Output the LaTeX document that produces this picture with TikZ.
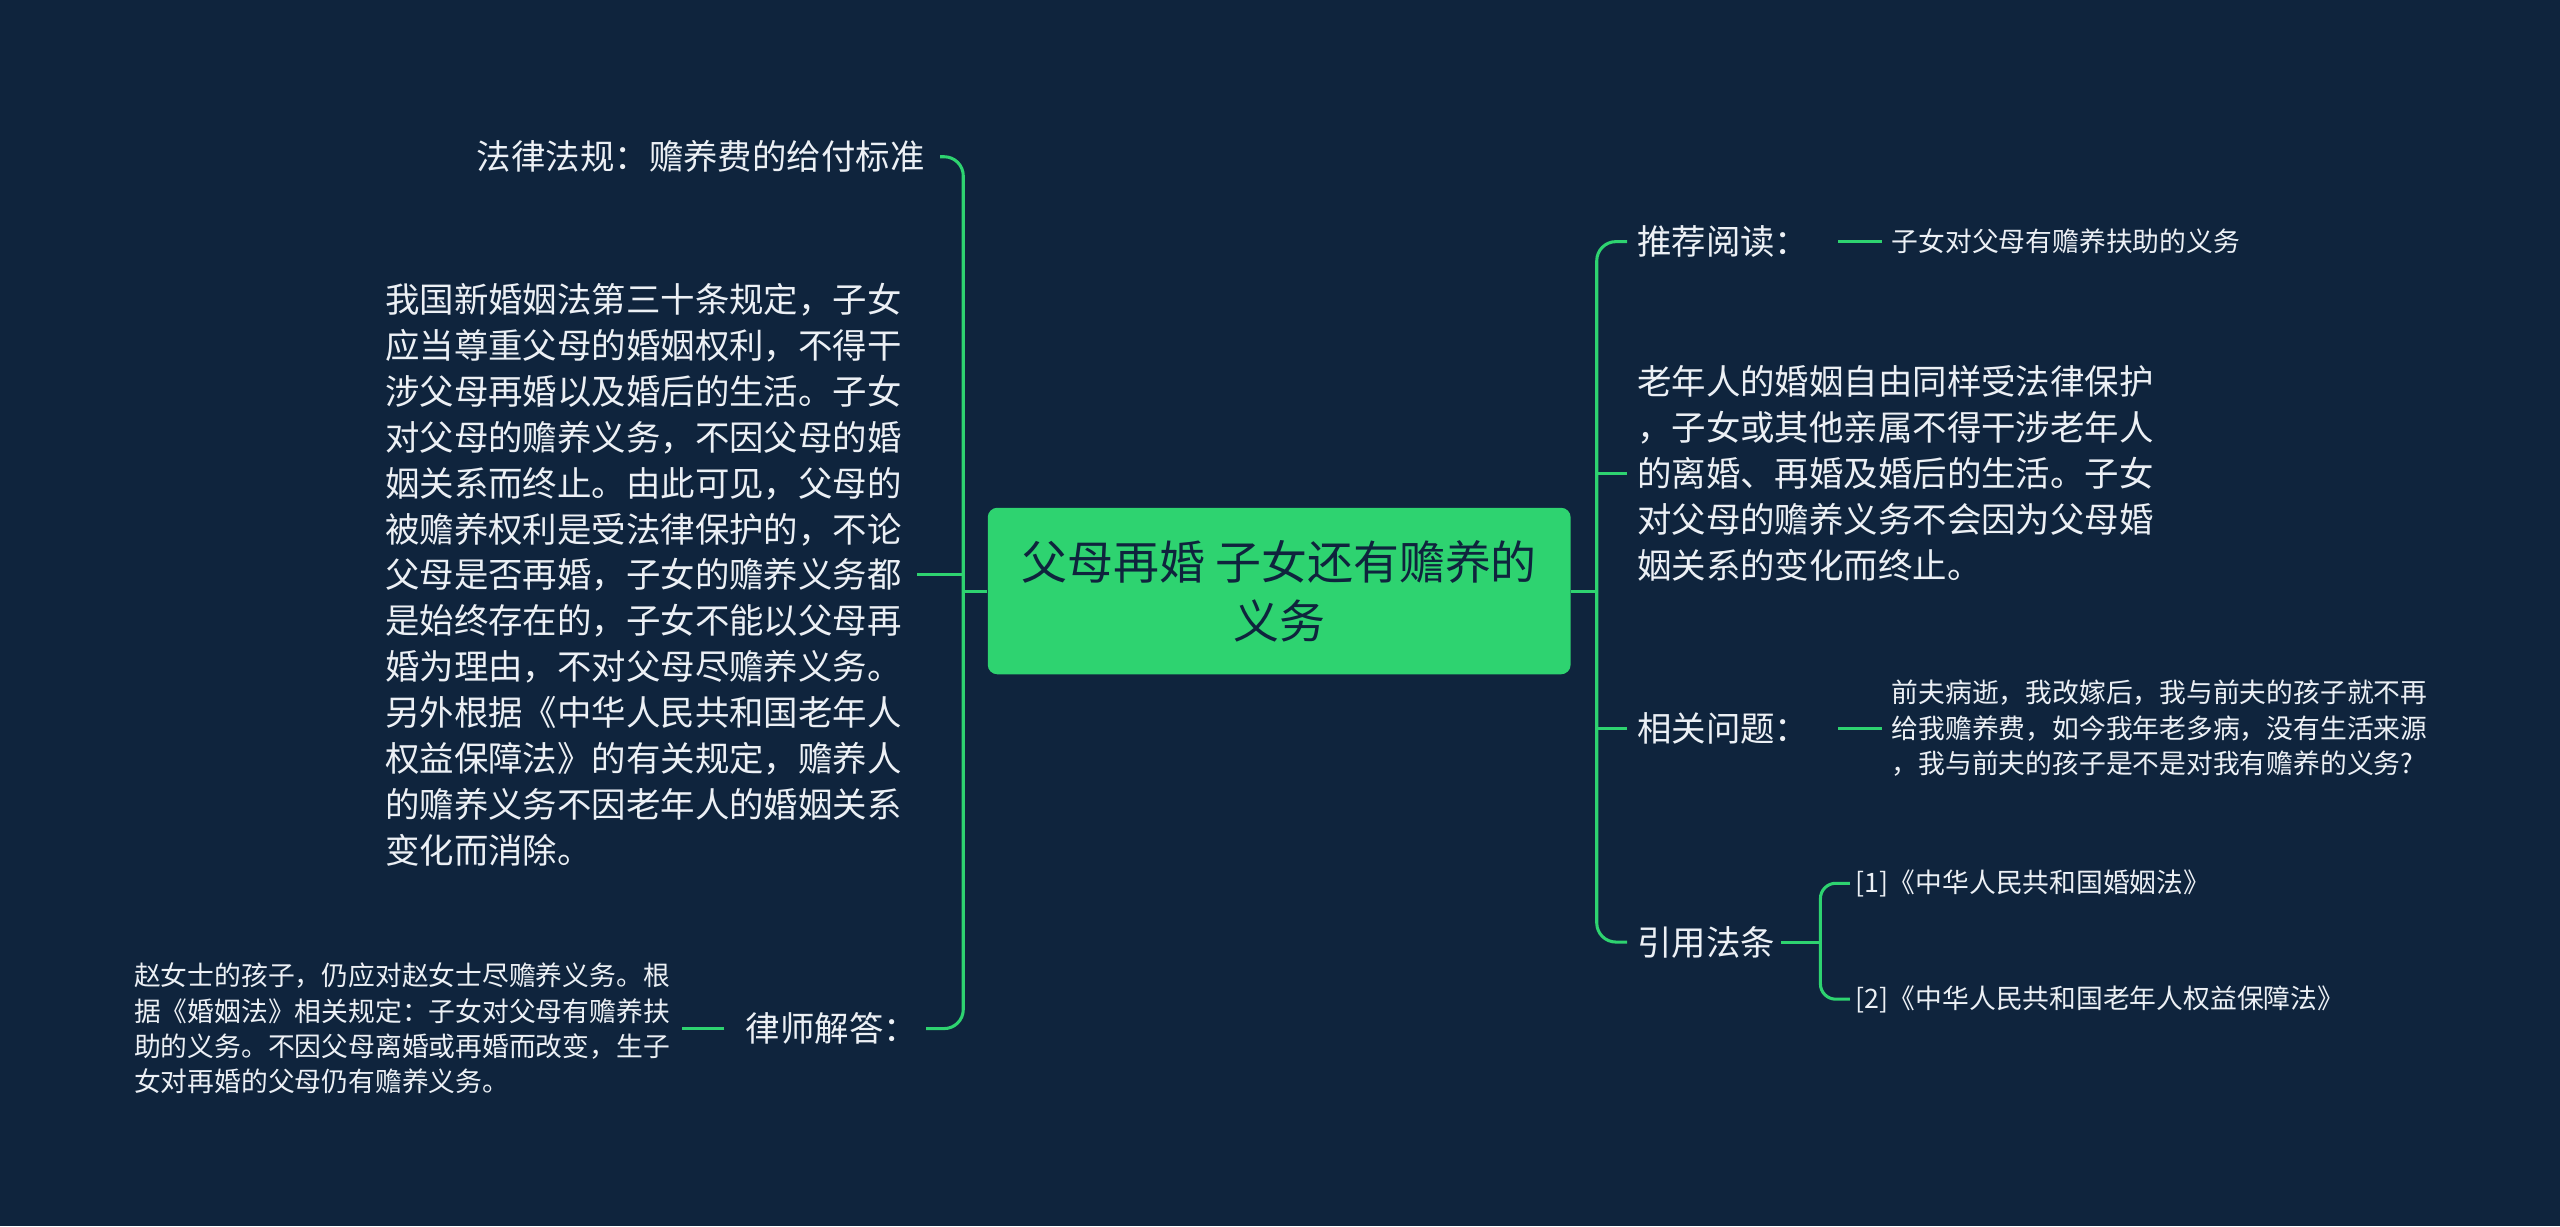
\documentclass[tikz,border=0pt]{standalone}
\usepackage{fontspec}
\setmainfont{Noto Sans CJK SC}
\usetikzlibrary{positioning}
\definecolor{bgnavy}{RGB}{15,36,61}
\definecolor{mindgreen}{RGB}{46,211,112}
\definecolor{txt}{RGB}{236,240,245}
\tikzset{link/.style={draw=mindgreen, line width=1.6pt}}

\begin{document}
\begin{tikzpicture}[x=0.03cm, y=-0.03cm, root/.style={rounded corners=5pt, fill=mindgreen, text=bgnavy, align=center, minimum width=357*0.03cm, minimum height=102*0.03cm, font=\fontsize{24}{30.7}\selectfont}, topic/.style={text=txt, inner sep=3pt, font=\fontsize{18}{24}\selectfont, align=left}, leaf/.style={text=txt, inner sep=3pt, font=\fontsize{14}{18.5}\selectfont, align=left}]

    %Background
    \fill[bgnavy] (0,0) rectangle (1568,751);
    \useasboundingbox (0,0) rectangle (1568,751);

    %Nodes
    \node[root](center) at (783.5,362){父母再婚 子女还有赡养的\\义务};
    \coordinate (lbus) at (590,362);
    \coordinate (rbus) at (978,362);
    \coordinate (cbus) at (1115,577);

    \node[topic, anchor=east](law) at (570,96){法律法规：赡养费的给付标准};
    \node[topic, anchor=east](lpara) at (556,352){我国新婚姻法第三十条规定，子女\\应当尊重父母的婚姻权利，不得干\\涉父母再婚以及婚后的生活。子女\\对父母的赡养义务，不因父母的婚\\姻关系而终止。由此可见，父母的\\被赡养权利是受法律保护的，不论\\父母是否再婚，子女的赡养义务都\\是始终存在的，子女不能以父母再\\婚为理由，不对父母尽赡养义务。\\另外根据《中华人民共和国老年人\\权益保障法》的有关规定，赡养人\\的赡养义务不因老年人的婚姻关系\\变化而消除。};
    \node[topic, anchor=east](lawyer) at (566,630){律师解答：};
    \node[leaf, anchor=east](lawyerleaf) at (414,630){赵女士的孩子，仍应对赵女士尽赡养义务。根\\据《婚姻法》相关规定：子女对父母有赡养扶\\助的义务。不因父母离婚或再婚而改变，生子\\女对再婚的父母仍有赡养义务。};

    \node[topic, anchor=west](rec) at (999,148){推荐阅读：};
    \node[leaf, anchor=west](recleaf) at (1155,148){子女对父母有赡养扶助的义务};
    \node[topic, anchor=west](rpara) at (999,290){老年人的婚姻自由同样受法律保护\\，子女或其他亲属不得干涉老年人\\的离婚、再婚及婚后的生活。子女\\对父母的赡养义务不会因为父母婚\\姻关系的变化而终止。};
    \node[topic, anchor=west](ask) at (999,446){相关问题：};
    \node[leaf, anchor=west](askleaf) at (1155,446){前夫病逝，我改嫁后，我与前夫的孩子就不再\\给我赡养费，如今我年老多病，没有生活来源\\，我与前夫的孩子是不是对我有赡养的义务?};
    \node[topic, anchor=west](cite) at (999,577){引用法条};
    \node[leaf, anchor=west](citeA) at (1133,541){[1]《中华人民共和国婚姻法》};
    \node[leaf, anchor=west](citeB) at (1133,612){[2]《中华人民共和国老年人权益保障法》};

    %Lines
    \draw[link] (center.west) -- (lbus);
    \draw[link, rounded corners=10pt] ([xshift=5pt]law.east) -| (lbus) |- ([xshift=1pt]lawyer.east);
    \draw[link] ([xshift=5pt]lpara.east |- 0,352) -- (lbus |- 0,352);
    \draw[link] ([xshift=-8pt]lawyer.west) -- ([xshift=3pt]lawyerleaf.east);
    \draw[link] (center.east) -- (rbus);
    \draw[link, rounded corners=10pt] ([xshift=-2pt]rec.west) -| (rbus) |- ([xshift=-2pt]cite.west);
    \draw[link] ([xshift=-2pt]rpara.west) -- (rbus |- rpara.west);
    \draw[link] ([xshift=-2pt]ask.west) -- (rbus |- ask.west);
    \draw[link] ([xshift=12pt]rec.east) -- ([xshift=-2pt]recleaf.west);
    \draw[link] ([xshift=12pt]ask.east) -- ([xshift=-2pt]askleaf.west);
    \draw[link] (cite.east) -- (cbus);
    \draw[link, rounded corners=8pt] (citeA.west) -| (cbus) |- (citeB.west);

\end{tikzpicture}
\end{document}
